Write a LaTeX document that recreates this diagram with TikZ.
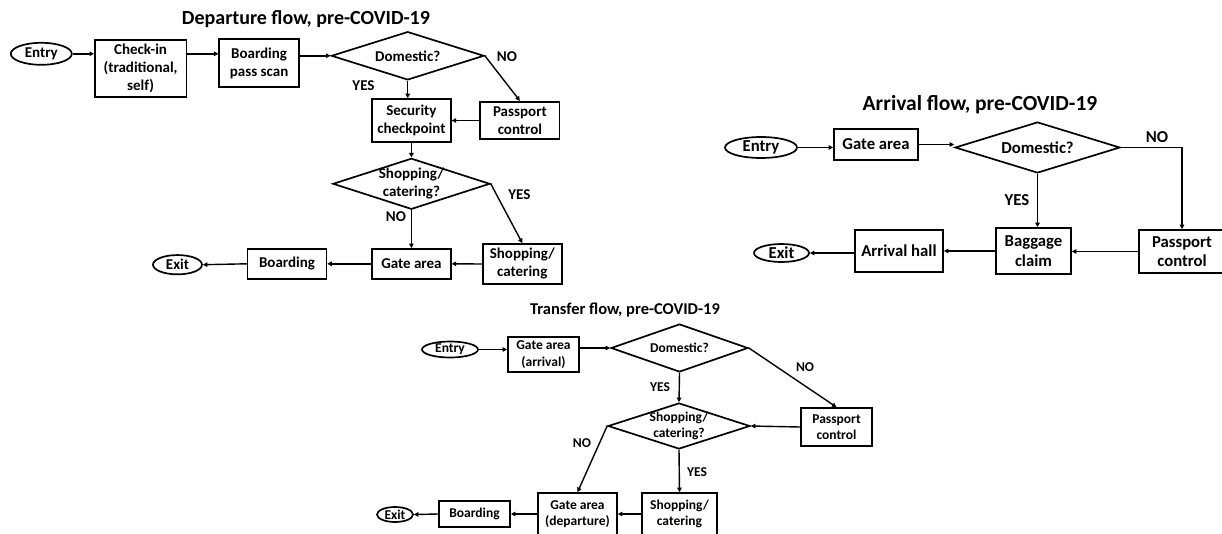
\documentclass[tikz,border=0pt]{standalone}
\usepackage{fontspec}
\setmainfont{Carlito}
\usetikzlibrary{shapes.geometric,arrows.meta}
\begin{document}
\begin{tikzpicture}[x=1pt,y=-1pt,
  every node/.style={font=\bfseries},
  fd/.style={font=\bfseries\fontsize{15}{18}\selectfont},
  fa/.style={font=\bfseries\fontsize{16.7}{19.5}\selectfont},
  ft/.style={font=\bfseries\fontsize{13.5}{16.5}\selectfont},
  lbl/.style={inner sep=0pt},
  box/.style={draw, line width=1.7pt, align=center, inner sep=0pt},
  term/.style={draw, ellipse, line width=1.7pt, inner sep=0pt},
  dia/.style={draw, diamond, line width=1.7pt, inner sep=-4pt, align=center},
  arr/.style={line width=1.4pt, -{Triangle[length=4.5pt,width=4.5pt]}}
]
\useasboundingbox (0,0) rectangle (1222,533);
% ===== Departure =====
\node[font=\bfseries\fontsize{20}{22}\selectfont] (dtitle) at (306,19) {Departure flow, pre-COVID-19};
\node[term, fd, minimum width=61pt, minimum height=22pt] (dentry) at (41.3,53.8) {Entry};
\node[box, fd, minimum width=91.5pt, minimum height=57pt] (dci) at (140.6,68.7) {Check-in\\(traditional,\\self)};
\node[box, fd, minimum width=79.6pt, minimum height=48pt] (dbps) at (259.1,63.2) {Boarding\\pass scan};
\node[dia, fd, aspect=3.16, minimum width=152.7pt, minimum height=48.3pt] (ddom) at (407.7,55.8) {Domestic?};
\node[box, fd, minimum width=78.8pt, minimum height=43pt] (dsec) at (411.4,120.5) {Security\\checkpoint};
\node[box, fd, minimum width=79.3pt, minimum height=37.6pt] (dpass) at (519.9,120.5) {Passport\\control};
\node[dia, fd, aspect=3.08, minimum width=157pt, minimum height=51pt] (dshopq) at (411.4,183.8) {Shopping/\\catering?};
\node[box, fd, minimum width=78.8pt, minimum height=29.7pt] (dgate) at (411.4,263.8) {Gate area};
\node[box, fd, minimum width=78.8pt, minimum height=40pt] (dshop) at (522.3,264) {Shopping/\\catering};
\node[box, fd, minimum width=78.8pt, minimum height=29.7pt] (dboard) at (287,263.8) {Boarding};
\node[term, fd, minimum width=49pt, minimum height=19.3pt] (dexit) at (177.5,264.7) {Exit};
\node[lbl, fd] (dno1) at (507,56.7) {NO};
\node[lbl, fd] (dyes1) at (363.5,85.7) {YES};
\node[lbl, fd] (dyes2) at (519.3,195) {YES};
\node[lbl, fd] (dno2) at (396,216.7) {NO};
\draw[arr] (dentry.east) -- (dentry.east -| dci.west);
\draw[arr] (dci.east |- dentry.east) -- (dbps.west |- dentry.east);
\draw[arr] (dbps.east |- ddom.west) -- (ddom.west);
\draw[arr] (ddom.east) -- (dpass.north);
\draw[arr] (ddom.south) -- (ddom.south |- dsec.north);
\draw[arr] (dpass.west) -- (dsec.east);
\draw[arr] (dsec.south) -- (dshopq.north);
\draw[arr] (dshopq.south) -- (dgate.north);
\draw[arr] (dshopq.east) -- (dshop.north);
\draw[arr] (dshop.west) -- (dgate.east);
\draw[arr] (dgate.west) -- (dboard.east);
\draw[arr] (dboard.west) -- (dexit.east);
% ===== Arrival =====
\node[font=\bfseries\fontsize{21.5}{24}\selectfont] (atitle) at (980,105) {Arrival flow, pre-COVID-19};
\node[term, fa, minimum width=72pt, minimum height=21pt] (aentry) at (761,147.5) {Entry};
\node[box, fa, minimum width=84pt, minimum height=31pt] (agate) at (876,144.5) {Gate area};
\node[dia, fa, aspect=3.2, minimum width=165pt, minimum height=51pt] (adom) at (1037.5,147.5) {Domestic?};
\node[box, fa, minimum width=75pt, minimum height=46pt] (abag) at (1033.5,251) {Baggage\\claim};
\node[box, fa, minimum width=86pt, minimum height=43pt] (apass) at (1182,251.5) {Passport\\control};
\node[box, fa, minimum width=88pt, minimum height=42pt] (ahall) at (899,251) {Arrival hall};
\node[term, fa, minimum width=55pt, minimum height=18pt] (aexit) at (781.5,253) {Exit};
\node[lbl, fa] (ano) at (1157,137) {NO};
\node[lbl, fa] (ayes) at (1017,200) {YES};
\draw[arr] (aentry.east) -- (aentry.east -| agate.west);
\draw[arr] (agate.east) -- (agate.east -| adom.west);
\draw[arr] (adom.east) -| (apass.north);
\draw[arr] (adom.south) -- (adom.south |- abag.north);
\draw[arr] (apass.west) -- (apass.west -| abag.east);
\draw[arr] (abag.west) -- (abag.west -| ahall.east);
\draw[arr] (ahall.west |- aexit.east) -- (aexit.east);
% ===== Transfer =====
\node[font=\bfseries\fontsize{16.5}{19}\selectfont] (ttitle) at (625,310) {Transfer flow, pre-COVID-19};
\node[term, ft, minimum width=56pt, minimum height=16pt] (tentry) at (450,349.5) {Entry};
\node[box, ft, minimum width=71pt, minimum height=35pt] (tgatea) at (543.5,354.5) {Gate area\\(arrival)};
\node[dia, ft, aspect=2.85, minimum width=137pt, minimum height=48pt] (tdom) at (679.5,348) {Domestic?};
\node[box, ft, minimum width=71pt, minimum height=38pt] (tpass) at (836.5,427) {Passport\\control};
\node[dia, ft, aspect=3.08, minimum width=142pt, minimum height=46pt] (tshopq) at (679,426) {Shopping/\\catering?};
\node[box, ft, minimum width=79pt, minimum height=42pt] (tgated) at (577.5,514) {Gate area\\(departure)};
\node[box, ft, minimum width=75pt, minimum height=42pt] (tshop) at (679.5,514) {Shopping/\\catering};
\node[box, ft, minimum width=71pt, minimum height=26pt] (tboard) at (474.5,514) {Boarding};
\node[term, ft, minimum width=36pt, minimum height=15pt] (texit) at (395,514.5) {Exit};
\node[lbl, ft] (tno1) at (805,367) {NO};
\node[lbl, ft] (tyes1) at (660,387) {YES};
\node[lbl, ft] (tno2) at (582,443) {NO};
\node[lbl, ft] (tyes2) at (697,472) {YES};
\draw[arr] (tentry.east) -- (tentry.east -| tgatea.west);
\draw[arr] (tgatea.east |- tdom.west) -- (tdom.west);
\draw[arr] (tdom.east) -- (tpass.north);
\draw[arr] (tdom.south) -- (tshopq.north);
\draw[arr] (tpass.west) -- (tshopq.east);
\draw[arr] (tshopq.west) -- (tgated.north);
\draw[arr] (tshopq.south) -- (tshop.north);
\draw[arr] (tshop.west) -- (tgated.east);
\draw[arr] (tgated.west) -- (tboard.east);
\draw[arr] (tboard.west) -- (texit.east);
\end{tikzpicture}
\end{document}
